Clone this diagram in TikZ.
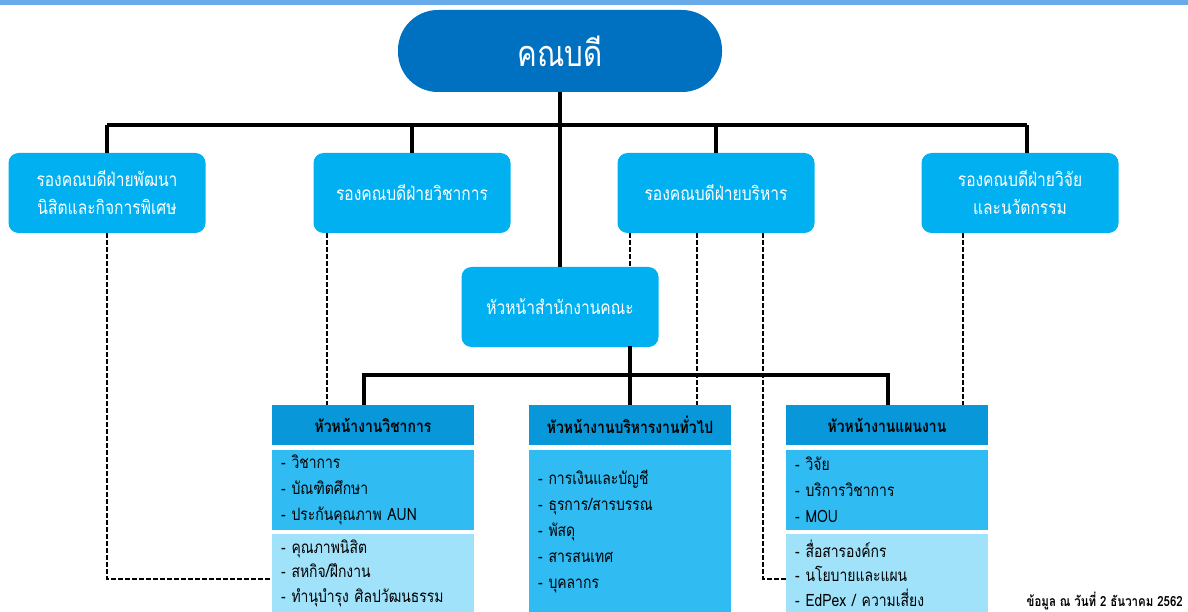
\documentclass[tikz,border=0pt]{standalone}
\usepackage{fontspec}
\setmainfont{Loma}[Script=Thai]
\newfontfamily\thaic[Script=Thai,FakeStretch=0.82]{Loma}
\usetikzlibrary{calc}
\definecolor{deanblue}{RGB}{0,112,192}
\definecolor{vpblue}{RGB}{0,176,240}
\definecolor{hdrblue}{RGB}{8,152,218}
\definecolor{bodyblue}{RGB}{48,188,242}
\definecolor{lightblue}{RGB}{160,226,250}
\definecolor{topbar}{RGB}{105,170,232}
\begin{document}
\begin{tikzpicture}[x=1pt,y=-1pt,
  dean/.style={rectangle, rounded corners=40pt, fill=deanblue, text=white,
    minimum width=324pt, minimum height=82pt, inner sep=0pt,
    font=\thaic\fontsize{36}{40}\selectfont},
  vpbox/.style={rectangle, rounded corners=10pt, fill=vpblue, text=white, align=center,
    minimum width=197pt, minimum height=80pt, inner sep=0pt,
    font=\thaic\fontsize{19}{28}\selectfont},
  hdr/.style={rectangle, fill=hdrblue, minimum width=202pt, minimum height=40pt,
    inner sep=0pt, font=\thaic\bfseries\fontsize{17}{20}\selectfont},
  bodybox/.style={rectangle, anchor=north west, minimum width=202pt, inner xsep=9pt,
    inner ysep=0pt, text width=184pt, align=left,
    font=\thaic\fontsize{17}{26}\selectfont},
  lowbox/.style={bodybox, fill=lightblue, minimum height=78pt,
    font=\thaic\fontsize{17}{24.5}\selectfont},
  solidline/.style={line width=3.6pt},
  dline/.style={line width=2.2pt, dash pattern=on 5pt off 2pt}]
\useasboundingbox (0,0) rectangle (1188,612);
\fill[topbar] (0,0) rectangle (1188,5);

% nodes
\node[dean] (dean) at (560,51) {คณบดี};
\node[vpbox] (vp1) at (107,193) {รองคณบดีฝ่ายพัฒนา\\นิสิตและกิจการพิเศษ};
\node[vpbox] (vp2) at (412,193) {รองคณบดีฝ่ายวิชาการ};
\node[vpbox] (vp3) at (716,193) {รองคณบดีฝ่ายบริหาร};
\node[vpbox] (vp4) at (1020,193) {รองคณบดีฝ่ายวิจัย\\และนวัตกรรม};
\node[vpbox] (office) at (560,307) {หัวหน้าสำนักงานคณะ};

\node[hdr] (hA) at (373,425) {หัวหน้างานวิชาการ};
\node[hdr] (hB) at (630,425) {หัวหน้างานบริหารงานทั่วไป};
\node[hdr] (hC) at (887,425) {หัวหน้างานแผนงาน};

\node[bodybox, fill=bodyblue, minimum height=80pt] (bA1) at (272,450)
  {- วิชาการ\\- บัณฑิตศึกษา\\- ประกันคุณภาพ AUN};
\node[lowbox] (bA2) at (272,534)
  {- คุณภาพนิสิต\\- สหกิจ/ฝึกงาน\\- ทำนุบำรุง ศิลปวัฒนธรรม};
\node[bodybox, fill=bodyblue, minimum height=162pt] (bB) at (529,450)
  {- การเงินและบัญชี\\- ธุรการ/สารบรรณ\\- พัสดุ\\- สารสนเทศ\\- บุคลากร};
\node[bodybox, fill=bodyblue, minimum height=80pt] (bC1) at (786,450)
  {- วิจัย\\- บริการวิชาการ\\- MOU};
\node[lowbox] (bC2) at (786,534)
  {- สื่อสารองค์กร\\- นโยบายและแผน\\- EdPex / ความเสี่ยง};

\node[anchor=east, inner sep=0pt, font=\thaic\bfseries\fontsize{14}{16}\selectfont] (note) at (1183,601)
  {ข้อมูล ณ วันที่ 2 ธันวาคม 2562};

% helper coordinates
\coordinate (busL) at (108,125);
\coordinate (busR) at (1027,125);
\coordinate (bus2) at (630,375);
\coordinate (vp4top) at (1027,153);
\coordinate (offbot) at (630,346);
\coordinate (offtop) at (630,268);
\coordinate (dA) at (272,579);
\coordinate (dC) at (786,579);

% solid connectors
\draw[solidline] (dean.south) -- (office.north);
\draw[solidline] (vp1.north |- busL) -- (busR);
\draw[solidline] (vp1.north |- busL) -- (vp1.north);
\draw[solidline] (vp2.north |- busL) -- (vp2.north);
\draw[solidline] (vp3.north |- busL) -- (vp3.north);
\draw[solidline] (busR) -- (vp4top);
\draw[solidline] (offbot) -- (hB.north);
\draw[solidline] ([xshift=-9pt]hA.north) |- (bus2) -| ([xshift=1pt]hC.north);

% dashed connectors
\draw[dline] (vp1.south) |- (dA);
\draw[dline] (vp2.south -| 327,0) -- (hA.north -| 327,0);
\draw[dline] (vp3.south -| offtop) -- (offtop);
\draw[dline] (vp3.south -| 697,0) -- (hB.north -| 697,0);
\draw[dline] (vp3.south -| 763,0) |- (dC);
\draw[dline] (vp4.south -| 963,0) -- (hC.north -| 963,0);
\end{tikzpicture}
\end{document}
